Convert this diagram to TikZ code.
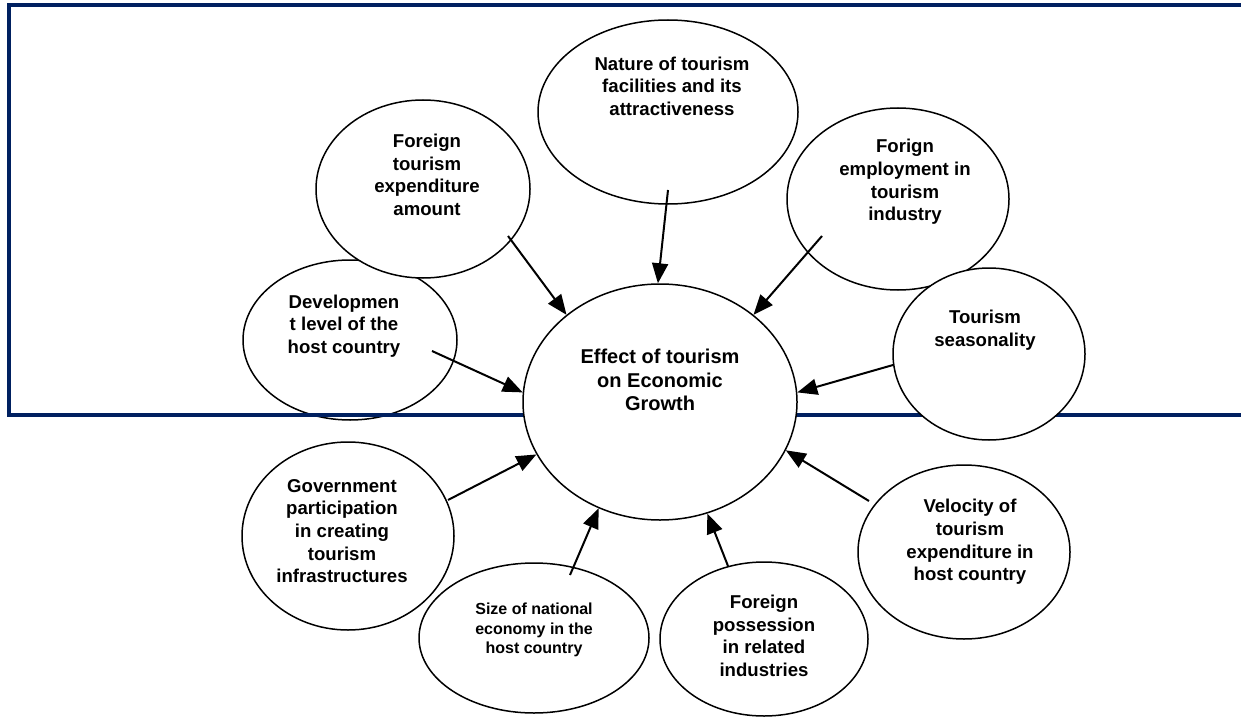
\documentclass[tikz,border=0pt]{standalone}
\usepackage{fontspec}
\setmainfont{Liberation Sans}
\usetikzlibrary{shapes.geometric,arrows.meta}
\definecolor{navyline}{RGB}{0,32,96}
\tikzset{
  oval/.style={draw, ellipse, line width=0.75pt, fill=white, inner sep=0pt},
  ovaltext/.style={align=center, inner sep=0.75pt, font=\fontsize{9.3}{11.3}\selectfont\bfseries},
  arr/.style={line width=1pt, -{Triangle[length=10pt,width=8pt]}},
  blueframe/.style={draw=navyline, line width=2pt, line join=miter}
}
\begin{document}
\begin{tikzpicture}[x=0.5pt,y=-0.5pt]
	\useasboundingbox (0,0) rectangle (1241,717);

	% Ellipse
	\node [oval, minimum width=107pt, minimum height=80pt] (dev) at (350,340) {};
	% Frame
	\draw [blueframe] (1241,5) -- (9,5) -- (9,415) -- (1241,415) ;

	% Ellipses
	\node [oval, minimum width=137pt, minimum height=118pt] (effect) at (660,402) {};
	\node [oval, minimum width=130pt, minimum height=92pt] (nature) at (668,112) {};
	\node [oval, minimum width=107pt, minimum height=89pt] (fexp) at (423,189) {};
	\node [oval, minimum width=111pt, minimum height=91pt] (femp) at (898,199) {};
	\node [oval, minimum width=96pt, minimum height=86pt] (season) at (989,354) {};
	\node [oval, minimum width=106pt, minimum height=94pt] (gov) at (348,536) {};
	\node [oval, minimum width=115pt, minimum height=75pt] (size) at (534,638) {};
	\node [oval, minimum width=104pt, minimum height=77pt] (fposs) at (764,639) {};
	\node [oval, minimum width=106pt, minimum height=87pt] (velo) at (964,552) {};

	% Text Node
	\node [ovaltext, font=\fontsize{10}{11.65}\selectfont\bfseries] (effect-t) at (660,380) {Effect of tourism\\on Economic\\Growth};
	% Text Node
	\node [ovaltext] (nature-t) at (672,86) {Nature of tourism\\facilities and its\\attractiveness};
	% Text Node
	\node [ovaltext] (fexp-t) at (427,175) {Foreign\\tourism\\expenditure\\amount};
	% Text Node
	\node [ovaltext] (femp-t) at (905,182) {Forign\\employment in\\tourism\\industry};
	% Text Node
	\node [ovaltext] (dev-t) at (344,326) {Developmen\\t level of the\\host country};
	% Text Node
	\node [ovaltext] (season-t) at (985,330) {Tourism\\seasonality};
	% Text Node
	\node [ovaltext] (gov-t) at (342,531) {Government\\participation\\in creating\\tourism\\infrastructures};
	% Text Node
	\node [ovaltext, font=\fontsize{8}{9.6}\selectfont\bfseries] (size-t) at (534,630) {Size of national\\economy in the\\host country};
	% Text Node
	\node [ovaltext] (fposs-t) at (764,636) {Foreign\\possession\\in related\\industries};
	% Text Node
	\node [ovaltext] (velo-t) at (970,542) {Velocity of\\tourism\\expenditure in\\host country};

	% Arrow tails
	\coordinate (fexp-tail) at (508,236);
	\coordinate (nature-tail) at (668,190);
	\coordinate (femp-tail) at (822,236);
	\coordinate (dev-tail) at (432,351);
	\coordinate (season-tail) at (893,365);
	\coordinate (gov-tail) at (448,500);
	\coordinate (size-tail) at (570,575);
	\coordinate (fposs-tail) at (728,566);
	\coordinate (velo-tail) at (869,501);

	% Straight Lines
	\draw [arr] (fexp-tail) -- (effect.137);
	\draw [arr] (nature-tail) -- (effect.91);
	\draw [arr] (femp-tail) -- (effect.43);
	\draw [arr] (dev-tail) -- (effect.176);
	\draw [arr] (season-tail) -- (effect.4);
	\draw [arr] (gov-tail) -- (effect.203);
	\draw [arr] (size-tail) -- (effect.240);
	\draw [arr] (fposs-tail) -- (effect.293);
	\draw [arr] (velo-tail) -- (effect.339);

\end{tikzpicture}
\end{document}
